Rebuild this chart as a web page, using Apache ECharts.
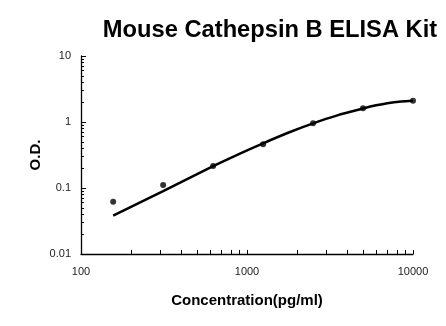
<!DOCTYPE html>
<html>
<head>
<meta charset="utf-8">
<script src="https://cdn.jsdelivr.net/npm/echarts@6/dist/echarts.min.js"></script>
<style>
  html, body { margin: 0; padding: 0; background: #fff; }
  #chart { width: 446px; height: 326px; }
</style>
</head>
<body>
<div id="chart"></div>
<script>
// Standard concentrations (pg/ml) and measured optical densities
const concentrations = [156.25, 312.5, 625, 1250, 2500, 5000, 10000];
const odValues = [0.062, 0.111, 0.215, 0.459, 0.955, 1.61, 2.10];

// Fitted standard curve, sampled along the concentration range
const curveX = [156.25, 312.5, 625, 900, 1250, 1800, 2500, 3500, 5000, 6000, 7000, 8500, 10000];
const curveY = [0.038, 0.090, 0.214, 0.33, 0.476, 0.70, 0.955, 1.26, 1.60, 1.79, 1.93, 2.05, 2.10];

// Axis ticks
const xMajorTicks = [100, 1000, 10000];
const xAllTicks = [100, 200, 300, 400, 500, 600, 700, 800, 900,
                   1000, 2000, 3000, 4000, 5000, 6000, 7000, 8000, 9000, 10000];
const yMajorTicks = [0.01, 0.1, 1, 10];
const yMinorTicks = [0.02, 0.03, 0.04, 0.05, 0.06, 0.07, 0.08, 0.09,
                     0.2, 0.3, 0.4, 0.5, 0.6, 0.7, 0.8, 0.9,
                     2, 3, 4, 5, 6, 7, 8, 9];

const FONT = '"Liberation Sans", Arial, sans-serif';

const chart = echarts.init(document.getElementById('chart'), null, { renderer: 'canvas' });

chart.setOption({
  animation: false,
  backgroundColor: '#ffffff',
  title: {
    text: 'Mouse Cathepsin B ELISA Kit',
    left: 265,
    textAlign: 'center',
    top: 13,
    textStyle: { fontFamily: FONT, fontWeight: 'bold', fontSize: 23.7, color: '#000' }
  },
  grid: { left: 81, right: 33, top: 56, bottom: 72, containLabel: false },
  xAxis: [{
    type: 'log',
    logBase: 10,
    min: 100,
    max: 10000,
    name: 'Concentration(pg/ml)',
    nameLocation: 'middle',
    nameGap: 39,
    nameMoveOverlap: false,
    nameTextStyle: { fontFamily: FONT, fontWeight: 'bold', fontSize: 15, color: '#000' },
    axisLine: { show: true, lineStyle: { color: '#000', width: 1.3 } },
    axisTick: { show: true, inside: true, length: 4, customValues: xAllTicks,
                lineStyle: { color: '#000', width: 1 } },
    axisLabel: { customValues: xMajorTicks, margin: 12, fontFamily: FONT, fontSize: 11, color: '#222',
                 formatter: v => String(v) },
    splitLine: { show: false }
  }],
  yAxis: [{
    type: 'log',
    logBase: 10,
    min: 0.01,
    max: 10,
    name: 'O.D.',
    nameLocation: 'middle',
    nameGap: 38,
    nameMoveOverlap: false,
    nameRotate: 90,
    nameTextStyle: { fontFamily: FONT, fontWeight: 'bold', fontSize: 15, color: '#000' },
    axisLine: { show: true, lineStyle: { color: '#000', width: 1.3 } },
    axisTick: { show: true, inside: true, length: 5, customValues: yMajorTicks,
                lineStyle: { color: '#000', width: 1 } },
    axisLabel: { customValues: yMajorTicks, margin: 10, fontFamily: FONT, fontSize: 11, color: '#222',
                 formatter: v => String(+v.toPrecision(3)) },
    splitLine: { show: false }
  }, {
    type: 'log',
    logBase: 10,
    min: 0.01,
    max: 10,
    position: 'left',
    axisLine: { show: false },
    axisTick: { show: true, inside: true, length: 3, customValues: yMinorTicks,
                lineStyle: { color: '#000', width: 1 } },
    axisLabel: { show: false },
    splitLine: { show: false }
  }],
  series: [{
    type: 'line',
    name: 'curve',
    data: curveX.map((x, i) => [x, curveY[i]]),
    smooth: 0.25,
    showSymbol: false,
    lineStyle: { color: '#000', width: 2.5 },
    z: 2
  }, {
    type: 'scatter',
    name: 'standards',
    data: concentrations.map((x, i) => [x, odValues[i]]),
    symbol: 'circle',
    symbolSize: 6,
    itemStyle: { color: '#000' },
    z: 3
  }]
});
</script>
</body>
</html>
